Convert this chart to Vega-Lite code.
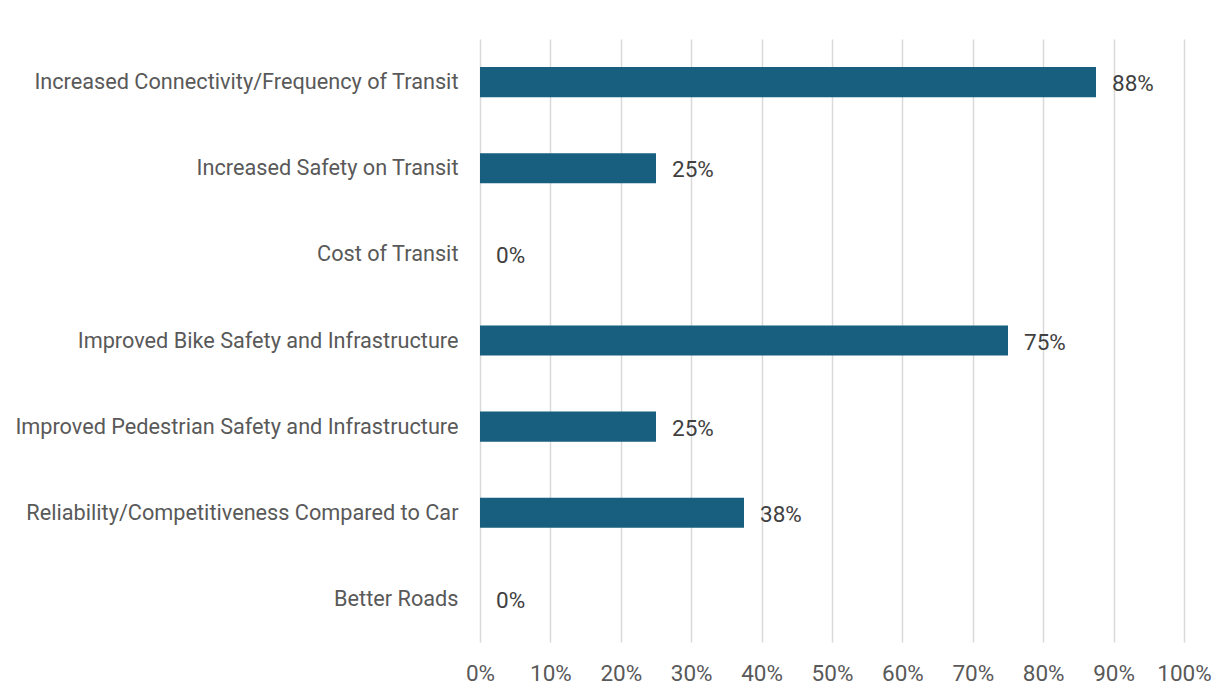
{
  "$schema": "https://vega.github.io/schema/vega-lite/v6.json",
  "autosize": "none",
  "width": 704,
  "height": 603,
  "padding": {"left": 480, "top": 39, "right": 41, "bottom": 46},
  "background": "white",
  "config": {
    "view": {"stroke": null},
    "font": "Roboto",
    "axis": {"labelFont": "Roboto", "labelColor": "#595959"}
  },
  "data": {
    "values": [
      {"category": "Increased Connectivity/Frequency of Transit", "share": 0.875},
      {"category": "Increased Safety on Transit", "share": 0.25},
      {"category": "Cost of Transit", "share": 0},
      {"category": "Improved Bike Safety and Infrastructure", "share": 0.75},
      {"category": "Improved Pedestrian Safety and Infrastructure", "share": 0.25},
      {"category": "Reliability/Competitiveness Compared to Car", "share": 0.375},
      {"category": "Better Roads", "share": 0}
    ]
  },
  "encoding": {
    "y": {
      "field": "category",
      "type": "nominal",
      "sort": null,
      "scale": {"paddingInner": 0.65, "paddingOuter": 0.325},
      "axis": {"title": null, "domain": false, "ticks": false, "grid": false, "labelPadding": 22, "labelLimit": 480, "labelFontSize": 21.7}
    },
    "x": {
      "field": "share",
      "type": "quantitative",
      "scale": {"domain": [0, 1], "nice": false},
      "axis": {
        "title": null, "format": ".0%", "values": [0,0.1,0.2,0.3,0.4,0.5,0.6,0.7,0.8,0.9,1],
        "domain": false, "ticks": false, "grid": true, "gridColor": "#d9d9d9", "gridWidth": 1.5,
        "labelPadding": 20, "labelFlush": false, "labelFontSize": 22.5
      }
    }
  },
  "layer": [
    {"mark": {"type": "bar", "color": "#175E7F"}},
    {
      "mark": {"type": "text", "align": "left", "baseline": "middle", "dx": 16, "dy": 2, "fontSize": 22.5, "color": "#404040", "font": "Roboto"},
      "encoding": {"text": {"field": "share", "type": "quantitative", "format": ".0%"}}
    }
  ]
}
